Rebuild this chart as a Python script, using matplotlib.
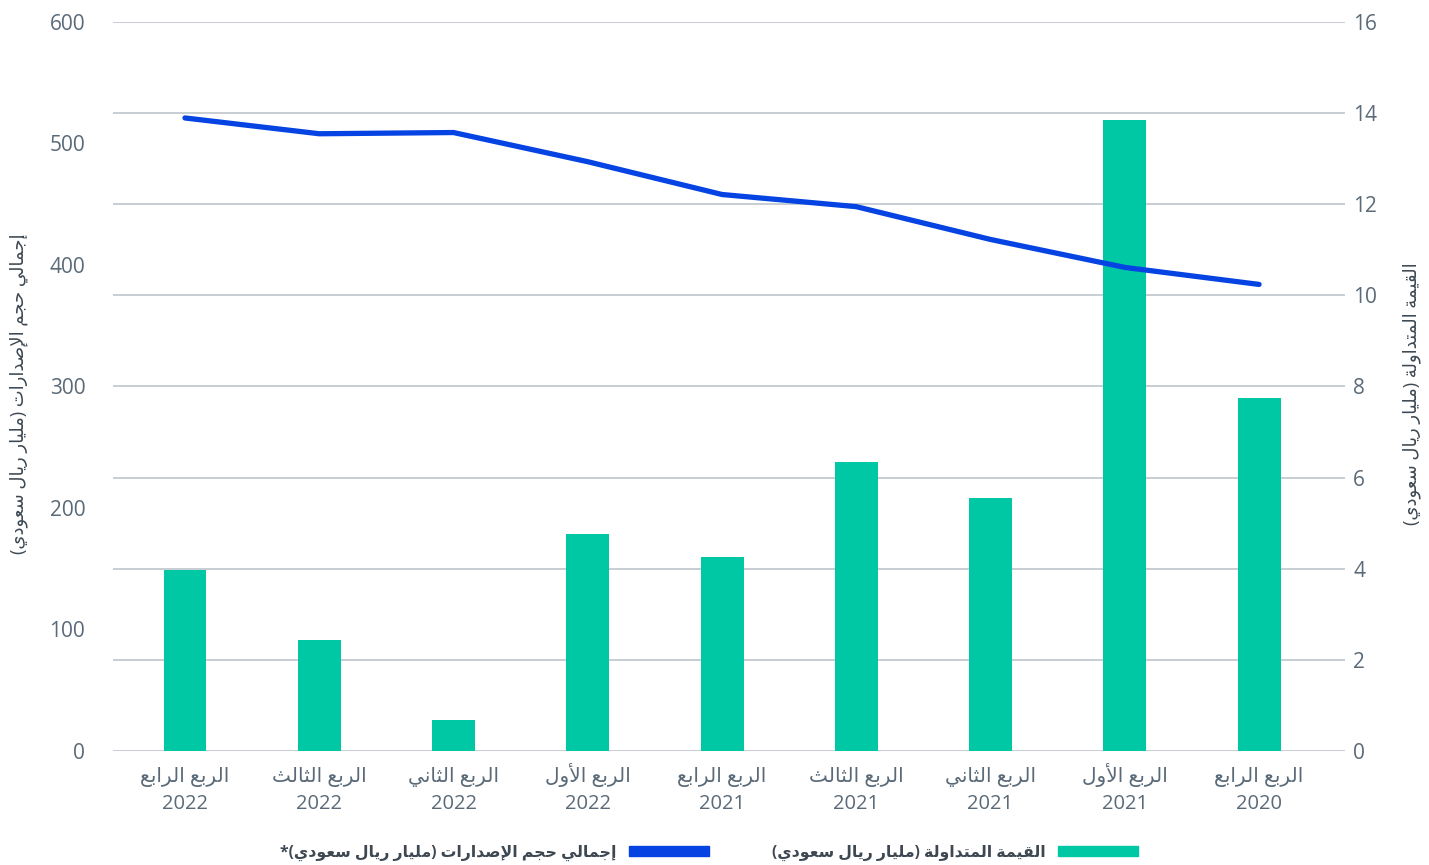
import matplotlib
matplotlib.use('Agg')
import matplotlib.pyplot as plt
from matplotlib.patches import Patch
import numpy as np

plt.rcParams['font.family'] = ['Open Sans', 'DejaVu Sans']

# data (oldest on the right, as in the original RTL chart)
quarters = ['الربع الرابع', 'الربع الثالث', 'الربع الثاني', 'الربع الأول',
            'الربع الرابع', 'الربع الثالث', 'الربع الثاني', 'الربع الأول',
            'الربع الرابع']
years = ['2022', '2022', '2022', '2022', '2021', '2021', '2021', '2021', '2020']
issuance = [521, 508, 509, 485, 458, 448, 421, 398, 384]          # left axis
traded = [3.98, 2.44, 0.68, 4.76, 4.26, 6.34, 5.55, 13.85, 7.75]  # right axis

issuance_label = 'إجمالي حجم الإصدارات (مليار ريال سعودي)'
traded_label = 'القيمة المتداولة (مليار ريال سعودي)'

BAR_COLOR = '#00c8a5'
LINE_COLOR = '#0543e2'
GRID_COLOR = '#b9c0c7'
TICK_COLOR = '#5a6a78'
LABEL_COLOR = '#3d4852'

# minimal arabic shaping (isolated, final, initial, medial)
FORMS = {
    'ا': ('\uFE8D', '\uFE8E'), 'أ': ('\uFE83', '\uFE84'), 'إ': ('\uFE87', '\uFE88'),
    'ب': ('\uFE8F', '\uFE90', '\uFE91', '\uFE92'),
    'ت': ('\uFE95', '\uFE96', '\uFE97', '\uFE98'),
    'ة': ('\uFE93', '\uFE94'),
    'ث': ('\uFE99', '\uFE9A', '\uFE9B', '\uFE9C'),
    'ج': ('\uFE9D', '\uFE9E', '\uFE9F', '\uFEA0'),
    'ح': ('\uFEA1', '\uFEA2', '\uFEA3', '\uFEA4'),
    'د': ('\uFEA9', '\uFEAA'), 'ر': ('\uFEAD', '\uFEAE'),
    'س': ('\uFEB1', '\uFEB2', '\uFEB3', '\uFEB4'),
    'ص': ('\uFEB9', '\uFEBA', '\uFEBB', '\uFEBC'),
    'ع': ('\uFEC9', '\uFECA', '\uFECB', '\uFECC'),
    'ق': ('\uFED5', '\uFED6', '\uFED7', '\uFED8'),
    'ل': ('\uFEDD', '\uFEDE', '\uFEDF', '\uFEE0'),
    'م': ('\uFEE1', '\uFEE2', '\uFEE3', '\uFEE4'),
    'ن': ('\uFEE5', '\uFEE6', '\uFEE7', '\uFEE8'),
    'ه': ('\uFEE9', '\uFEEA', '\uFEEB', '\uFEEC'),
    'و': ('\uFEED', '\uFEEE'),
    'ي': ('\uFEF1', '\uFEF2', '\uFEF3', '\uFEF4'),
    '\uFEF7': ('\uFEF7', '\uFEF8'), '\uFEF9': ('\uFEF9', '\uFEFA'),
    '\uFEFB': ('\uFEFB', '\uFEFC'),
}
MIRROR = {'(': ')', ')': '('}


def shape(text):
    text = text.replace('لأ', '\uFEF7').replace('لإ', '\uFEF9').replace('لا', '\uFEFB')
    out = []
    for i, ch in enumerate(text):
        if ch not in FORMS:
            out.append(MIRROR.get(ch, ch))
            continue
        prev = text[i - 1] if i > 0 else ''
        nxt = text[i + 1] if i + 1 < len(text) else ''
        forms = FORMS[ch]
        j_prev = prev in FORMS and len(FORMS[prev]) == 4
        j_next = len(forms) == 4 and nxt in FORMS
        if j_prev and j_next:
            out.append(forms[3])
        elif j_prev:
            out.append(forms[1])
        elif j_next:
            out.append(forms[2])
        else:
            out.append(forms[0])
    return ''.join(reversed(out))


fig = plt.figure(figsize=(14.29, 8.65), dpi=100)
ax = fig.add_axes([0.0791, 0.1318, 0.8621, 0.8428])
ax2 = ax.twinx()

x = np.arange(len(quarters))

# bars on right scale (primary axes so grid follows it)
ax.bar(x, traded, width=0.32, color=BAR_COLOR, zorder=2)
ax.set_ylim(0, 16)
ax.set_yticks(np.arange(0, 17, 2))
ax.yaxis.tick_right()
ax.yaxis.set_label_position('right')
ax.grid(axis='y', color=GRID_COLOR, linewidth=1.1, zorder=0)
ax.set_axisbelow(True)

# line on left scale
ax2.plot(x, issuance, color=LINE_COLOR, linewidth=3.8, solid_capstyle='round',
         zorder=3)
ax2.set_ylim(0, 600)
ax2.set_yticks(np.arange(0, 601, 100))
ax2.yaxis.tick_left()
ax2.yaxis.set_label_position('left')

# quarter names as major labels, years as minor labels on a second row
ax.set_xlim(-0.536, 8.64)
ax.xaxis.remove_overlapping_locs = False
ax.set_xticks(x)
ax.set_xticklabels([shape(q) for q in quarters])
ax.set_xticks(x, minor=True)
ax.set_xticklabels(years, minor=True)
for lab in ax.get_xticklabels():
    lab.set_verticalalignment('baseline')
for lab in ax.get_xticklabels(minor=True):
    lab.set_verticalalignment('baseline')

for a in (ax, ax2):
    for s in a.spines.values():
        s.set_visible(False)
ax.tick_params(axis='x', which='major', length=0, pad=22, labelsize=14.5,
               labelcolor=TICK_COLOR)
ax.tick_params(axis='x', which='minor', length=0, pad=42, labelsize=14.5,
               labelcolor=TICK_COLOR)
ax.tick_params(axis='y', length=0, pad=6, labelsize=15, labelcolor=TICK_COLOR)
ax2.tick_params(axis='y', length=0, pad=20, labelsize=15, labelcolor=TICK_COLOR)

ax2.set_ylabel(shape(issuance_label), fontsize=13, color=LABEL_COLOR,
               rotation=90)
ax2.yaxis.set_label_coords(-0.069, 0.49)
ax.set_ylabel(shape(traded_label), fontsize=13, color=LABEL_COLOR, rotation=90)
ax.yaxis.set_label_coords(1.047, 0.49)

handles = [Patch(color=LINE_COLOR), Patch(color=BAR_COLOR)]
labels = [shape(issuance_label + '*'), shape(traded_label)]
leg = fig.legend(handles, labels, loc='center', bbox_to_anchor=(0.496, 0.014),
                 ncol=2, markerfirst=False, frameon=False, handlelength=5.1,
                 handleheight=0.64, columnspacing=4.0, handletextpad=0.8,
                 prop={'size': 11.3, 'weight': 'bold'})
for t in leg.get_texts():
    t.set_color(LABEL_COLOR)

plt.savefig('out.png', dpi=100)
